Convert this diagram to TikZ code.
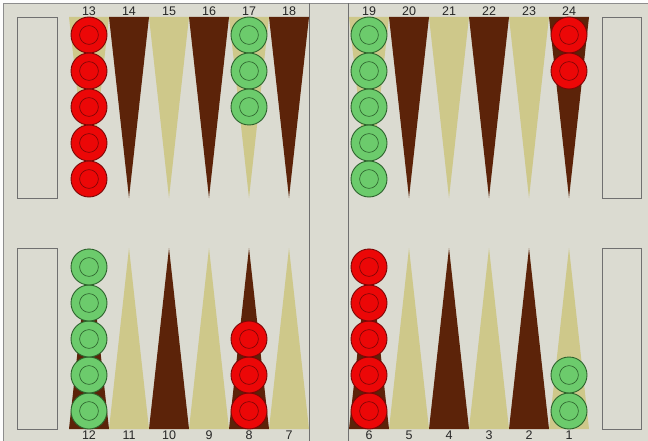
\documentclass[tikz,border=0pt]{standalone}
\usepackage{fontspec}
\setmainfont{Liberation Sans}
\definecolor{boardbg}{HTML}{DBDBD1}
\definecolor{darkpt}{HTML}{5C2309}
\definecolor{lightpt}{HTML}{CEC88A}
\definecolor{traygray}{HTML}{707070}
\definecolor{redfill}{HTML}{EC0707}
\definecolor{redline}{HTML}{7A0606}
\definecolor{greenfill}{HTML}{6CCB6C}
\definecolor{greenline}{HTML}{2C622C}
\tikzset{
  checker/.style={circle, minimum size=36pt, inner sep=0pt, line width=0.9pt},
  redchk/.style={checker, fill=redfill, draw=redline,
    path picture={\draw[redline, line width=0.6pt] (path picture bounding box.center) circle (9.4pt);}},
  greenchk/.style={checker, fill=greenfill, draw=greenline,
    path picture={\draw[greenline, line width=0.6pt] (path picture bounding box.center) circle (9.4pt);}},
  tray/.style={draw=traygray, line width=0.8pt, fill=boardbg},
  ptlabel/.style={font=\fontsize{12.5}{14}\selectfont, text=black!85, inner sep=0pt}
}
\begin{document}
\begin{tikzpicture}[x=1pt,y=-1pt]
\useasboundingbox (0,0) rectangle (648,441);
\fill[white!95!boardbg] (0,0) rectangle (648,441);
\fill[boardbg] (3.5,3.5) rectangle (660,450);
\draw[traygray!80, line width=0.8pt] (3.5,450) -- (3.5,3.5) -- (660,3.5);
% bar
\draw[traygray, line width=0.8pt] (309,3.5) -- (309,450);
\draw[traygray, line width=0.8pt] (348.5,3.5) -- (348.5,450);
% trays
\draw[tray] (17,17) rectangle (57,198);
\draw[tray] (17,248) rectangle (57,429);
\draw[tray] (602,17) rectangle (641,198);
\draw[tray] (602,248) rectangle (641,429);
% points
\foreach \i in {0,...,5}{
  \pgfmathsetmacro{\xl}{69+40*\i}
  \pgfmathsetmacro{\xr}{349+40*\i}
  \pgfmathtruncatemacro{\odd}{mod(\i,2)}
  \ifnum\odd=1
    \def\topc{darkpt}\def\botc{lightpt}
  \else
    \def\topc{lightpt}\def\botc{darkpt}
  \fi
  \fill[\topc] (\xl,17) -- (\xl+40,17) -- (\xl+20,198) -- cycle;
  \fill[\botc] (\xl,429) -- (\xl+40,429) -- (\xl+20,248) -- cycle;
  \fill[\topc] (\xr,17) -- (\xr+40,17) -- (\xr+20,198) -- cycle;
  \fill[\botc] (\xr,429) -- (\xr+40,429) -- (\xr+20,248) -- cycle;
  \pgfmathtruncatemacro{\tl}{13+\i}
  \pgfmathtruncatemacro{\tr}{19+\i}
  \pgfmathtruncatemacro{\bl}{12-\i}
  \pgfmathtruncatemacro{\br}{6-\i}
  \node[ptlabel] (lab\tl) at (\xl+20,11) {\tl};
  \node[ptlabel] (lab\tr) at (\xr+20,11) {\tr};
  \node[ptlabel] (lab\bl) at (\xl+20,435.5) {\bl};
  \node[ptlabel] (lab\br) at (\xr+20,435.5) {\br};
}
% checkers
\foreach \n in {1,...,5}{
  \node[redchk] (r13-\n) at (89,{35+36*(\n-1)}) {};
  \node[greenchk] (g19-\n) at (369,{35+36*(\n-1)}) {};
  \node[greenchk] (g12-\n) at (89,{411-36*(\n-1)}) {};
  \node[redchk] (r6-\n) at (369,{411-36*(\n-1)}) {};
}
\foreach \n in {1,...,3}{
  \node[greenchk] (g17-\n) at (249,{35+36*(\n-1)}) {};
  \node[redchk] (r8-\n) at (249,{411-36*(\n-1)}) {};
}
\foreach \n in {1,2}{
  \node[redchk] (r24-\n) at (569,{35+36*(\n-1)}) {};
  \node[greenchk] (g1-\n) at (569,{411-36*(\n-1)}) {};
}
\end{tikzpicture}
\end{document}
